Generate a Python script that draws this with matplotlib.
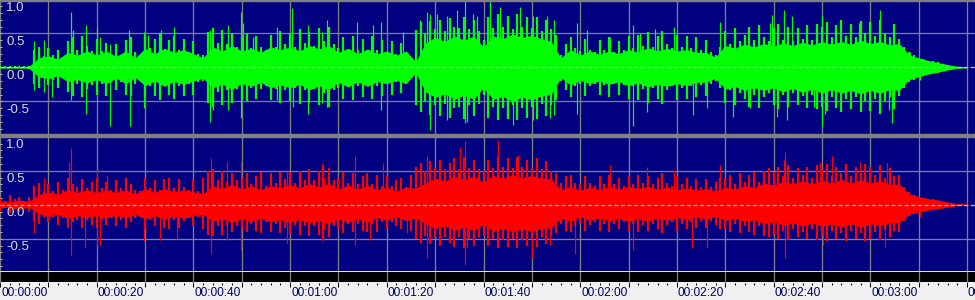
import numpy as np
import matplotlib
matplotlib.use("Agg")
import matplotlib.pyplot as plt
from matplotlib.patches import Rectangle
import matplotlib.transforms as mtransforms

# ---------------- data ----------------
# dense core of the waveform, every 2 seconds
core_seconds = list(range(0, 201, 2))
green_core_hi = [.012,.012,.012,.015,.14,.17,.12,.22,.18,.24,
                 .18,.24,.16,.24,.14,.28,.20,.28,.22,.26,
                 .20,.14,.30,.24,.32,.24,.28,.22,.30,.26,
                 .30,.24,.32,.27,.32,.22,.28,.20,.27,.20,
                 .24,.18,.24,.08,.36,.44,.38,.46,.40,.46,
                 .30,.46,.42,.49,.44,.47,.42,.38,.14,.26,
                 .18,.24,.19,.24,.20,.26,.22,.29,.24,.28,
                 .24,.26,.22,.22,.15,.32,.28,.34,.30,.35,
                 .31,.36,.32,.37,.33,.38,.34,.38,.34,.40,
                 .35,.38,.33,.35,.18,.14,.10,.07,.04,.015,
                 .01]
green_core_lo = [-.012,-.012,-.012,-.015,-.14,-.17,-.12,-.21,-.18,-.23,
                 -.18,-.24,-.16,-.24,-.15,-.27,-.20,-.28,-.21,-.25,
                 -.20,-.16,-.30,-.25,-.32,-.24,-.28,-.22,-.30,-.26,
                 -.30,-.25,-.33,-.27,-.33,-.22,-.29,-.21,-.28,-.21,
                 -.24,-.19,-.24,-.08,-.36,-.44,-.39,-.47,-.41,-.47,
                 -.30,-.47,-.43,-.50,-.44,-.48,-.42,-.40,-.15,-.26,
                 -.19,-.24,-.20,-.25,-.21,-.27,-.23,-.29,-.25,-.28,
                 -.24,-.27,-.22,-.22,-.16,-.32,-.28,-.34,-.30,-.34,
                 -.30,-.36,-.31,-.37,-.32,-.38,-.33,-.38,-.34,-.39,
                 -.34,-.38,-.33,-.34,-.18,-.14,-.10,-.07,-.04,-.015,
                 -.01]
red_core_hi = [.06,.04,.07,.05,.15,.19,.15,.22,.18,.22,
               .18,.22,.18,.22,.16,.24,.18,.24,.19,.22,
               .19,.16,.28,.24,.30,.23,.28,.22,.28,.25,
               .30,.25,.31,.26,.32,.23,.29,.23,.29,.22,
               .26,.20,.26,.24,.32,.39,.35,.42,.37,.42,
               .33,.43,.39,.44,.40,.43,.39,.38,.22,.27,
               .21,.26,.22,.27,.23,.27,.24,.27,.23,.26,
               .22,.25,.21,.24,.20,.26,.23,.28,.25,.32,
               .29,.34,.31,.35,.31,.36,.32,.37,.32,.37,
               .32,.35,.30,.30,.16,.12,.09,.07,.04,.015,
               .01]
red_core_lo = [-.05,-.03,-.06,-.04,-.13,-.17,-.14,-.20,-.16,-.19,
               -.16,-.19,-.16,-.19,-.14,-.21,-.16,-.21,-.17,-.20,
               -.16,-.14,-.24,-.21,-.26,-.21,-.25,-.20,-.25,-.22,
               -.26,-.22,-.27,-.23,-.28,-.21,-.26,-.21,-.26,-.19,
               -.23,-.18,-.23,-.20,-.28,-.35,-.31,-.38,-.33,-.38,
               -.29,-.39,-.35,-.40,-.36,-.39,-.35,-.34,-.20,-.24,
               -.18,-.23,-.19,-.24,-.20,-.24,-.21,-.24,-.20,-.23,
               -.19,-.22,-.18,-.21,-.17,-.23,-.20,-.25,-.22,-.28,
               -.25,-.30,-.27,-.31,-.27,-.32,-.28,-.33,-.28,-.33,
               -.28,-.31,-.27,-.26,-.14,-.11,-.08,-.06,-.035,-.012,
               -.01]

# per-second fringe peaks
seconds = list(range(0, 201))
green_hi = [.015,.015,.015,.015,.015,.015,.02,.26,.30,.16,
            .28,.18,.26,.15,.38,.44,.25,.46,.32,.24,
            .42,.24,.36,.20,.34,.18,.40,.44,.22,.16,
            .46,.28,.42,.50,.24,.40,.46,.26,.42,.22,
            .38,.20,.18,.52,.58,.36,.55,.34,.50,.30,
            .44,.50,.28,.46,.30,.26,.48,.30,.54,.34,
            .50,.30,.56,.36,.52,.32,.58,.38,.60,.34,
            .28,.44,.22,.46,.26,.42,.22,.46,.26,.40,
            .22,.38,.20,.36,.22,.10,.55,.66,.50,.68,
            .56,.70,.54,.72,.60,.58,.74,.56,.70,.54,
            .40,.74,.58,.78,.60,.76,.56,.78,.60,.74,
            .58,.74,.54,.70,.56,.48,.18,.34,.44,.28,
            .24,.42,.26,.22,.40,.26,.44,.22,.38,.26,
            .46,.28,.48,.32,.52,.30,.46,.54,.34,.28,
            .48,.30,.46,.28,.44,.26,.40,.22,.18,.30,
            .54,.34,.58,.38,.48,.60,.40,.62,.44,.38,
            .58,.64,.40,.60,.38,.58,.42,.62,.40,.64,
            .60,.66,.44,.62,.70,.46,.64,.44,.68,.50,
            .66,.46,.70,.50,.44,.64,.42,.30,.22,.18,
            .14,.12,.10,.09,.08,.05,.03,.02,.01,.01,
            .01]
green_lo = [-.015,-.015,-.015,-.015,-.015,-.015,-.02,-.24,-.30,-.16,
            -.26,-.18,-.30,-.15,-.36,-.42,-.24,-.44,-.32,-.26,
            -.40,-.25,-.42,-.22,-.34,-.22,-.40,-.42,-.24,-.18,
            -.44,-.28,-.42,-.48,-.26,-.40,-.46,-.28,-.42,-.24,
            -.40,-.22,-.20,-.52,-.58,-.36,-.56,-.34,-.52,-.32,
            -.46,-.50,-.30,-.46,-.32,-.28,-.48,-.32,-.52,-.34,
            -.50,-.30,-.54,-.34,-.52,-.32,-.56,-.38,-.58,-.34,
            -.30,-.46,-.24,-.48,-.28,-.44,-.24,-.46,-.28,-.42,
            -.24,-.40,-.22,-.38,-.24,-.10,-.56,-.66,-.50,-.70,
            -.56,-.72,-.54,-.74,-.60,-.58,-.76,-.56,-.72,-.54,
            -.40,-.74,-.58,-.78,-.60,-.76,-.56,-.78,-.60,-.74,
            -.58,-.76,-.54,-.72,-.56,-.48,-.20,-.34,-.44,-.28,
            -.24,-.42,-.28,-.24,-.40,-.26,-.44,-.24,-.40,-.26,
            -.46,-.28,-.48,-.32,-.52,-.30,-.46,-.54,-.34,-.28,
            -.48,-.30,-.46,-.28,-.44,-.26,-.42,-.24,-.20,-.30,
            -.52,-.34,-.56,-.38,-.46,-.58,-.40,-.60,-.44,-.38,
            -.56,-.62,-.40,-.58,-.38,-.56,-.42,-.60,-.40,-.62,
            -.58,-.64,-.44,-.60,-.66,-.46,-.62,-.44,-.66,-.50,
            -.64,-.46,-.68,-.50,-.44,-.62,-.42,-.30,-.22,-.18,
            -.14,-.12,-.10,-.09,-.08,-.05,-.03,-.02,-.01,-.01,
            -.01]
red_hi = [.12,.06,.14,.08,.12,.06,.12,.28,.32,.20,
          .30,.20,.34,.22,.40,.30,.26,.38,.24,.34,
          .40,.24,.34,.22,.36,.24,.40,.30,.22,.20,
          .40,.24,.36,.22,.38,.40,.24,.38,.26,.22,
          .36,.20,.40,.50,.52,.36,.50,.34,.46,.36,
          .40,.46,.30,.42,.48,.28,.46,.32,.48,.38,
          .48,.32,.50,.36,.52,.36,.50,.40,.54,.36,
          .40,.48,.32,.46,.30,.42,.46,.30,.44,.28,
          .42,.28,.36,.40,.26,.44,.56,.62,.50,.64,
          .54,.66,.52,.62,.68,.52,.70,.54,.66,.52,
          .50,.66,.54,.70,.56,.68,.54,.70,.56,.66,
          .54,.68,.52,.64,.50,.46,.32,.42,.44,.32,
          .30,.42,.32,.28,.42,.30,.44,.30,.40,.28,
          .42,.30,.44,.32,.42,.30,.40,.46,.32,.28,
          .42,.30,.40,.28,.38,.26,.38,.26,.34,.40,
          .40,.44,.30,.46,.34,.44,.48,.34,.50,.54,
          .48,.56,.42,.58,.40,.54,.44,.56,.40,.58,
          .52,.60,.42,.56,.46,.60,.42,.56,.46,.60,
          .56,.44,.58,.40,.54,.42,.44,.26,.18,.14,
          .12,.10,.09,.08,.06,.04,.03,.02,.01,.01,
          .01]
red_lo = [-.10,-.05,-.12,-.06,-.10,-.05,-.10,-.24,-.28,-.18,
          -.26,-.18,-.30,-.19,-.34,-.26,-.22,-.34,-.22,-.30,
          -.34,-.22,-.30,-.20,-.32,-.22,-.34,-.26,-.20,-.18,
          -.36,-.22,-.32,-.20,-.34,-.36,-.22,-.34,-.24,-.20,
          -.32,-.18,-.36,-.44,-.46,-.32,-.44,-.30,-.40,-.32,
          -.36,-.40,-.28,-.38,-.42,-.26,-.40,-.28,-.42,-.34,
          -.42,-.30,-.44,-.32,-.46,-.32,-.44,-.36,-.48,-.32,
          -.36,-.42,-.28,-.40,-.28,-.38,-.40,-.28,-.40,-.26,
          -.36,-.26,-.32,-.36,-.24,-.38,-.50,-.56,-.46,-.58,
          -.48,-.60,-.48,-.56,-.62,-.48,-.64,-.50,-.60,-.48,
          -.46,-.60,-.50,-.64,-.52,-.62,-.50,-.64,-.52,-.60,
          -.50,-.62,-.48,-.58,-.46,-.42,-.28,-.38,-.40,-.30,
          -.28,-.38,-.30,-.26,-.38,-.28,-.40,-.28,-.36,-.26,
          -.38,-.28,-.40,-.30,-.38,-.28,-.36,-.42,-.30,-.26,
          -.38,-.28,-.36,-.26,-.34,-.24,-.34,-.24,-.30,-.36,
          -.36,-.40,-.28,-.42,-.32,-.40,-.44,-.32,-.46,-.48,
          -.44,-.50,-.38,-.52,-.36,-.48,-.40,-.50,-.36,-.52,
          -.46,-.54,-.38,-.50,-.42,-.54,-.38,-.50,-.42,-.54,
          -.50,-.40,-.52,-.36,-.48,-.38,-.40,-.24,-.16,-.13,
          -.11,-.09,-.08,-.07,-.05,-.04,-.03,-.02,-.01,-.01,
          -.01]

# isolated tall spikes
green_spike_t = [7.1,7.1,9.0,9.0,10.8,14.6,14.6,15.0,17.8,17.8,20.0,20.7,22.8,22.8,
                 26.6,26.9,29.7,29.7,30.7,33.4,35.9,43.4,43.4,44.1,47.2,47.2,49.8,49.8,
                 50.3,52.4,57.2,57.2,60.3,60.7,63.8,63.8,66.6,66.6,67.6,67.6,
                 73.8,77.2,78.9,78.9,83.4,86.9,88.3,89.0,89.0,90.3,92.4,92.4,94.5,
                 96.2,96.2,96.5,97.9,98.6,101.4,103.4,104.8,104.8,106.2,107.6,110.3,110.3,
                 113.1,113.8,114.5,114.5,119.3,119.3,121.4,126.2,131.0,131.0,132.4,
                 133.8,135.5,139.3,143.4,146.2,149.0,151.7,155.2,159.3,159.6,160.7,
                 162.1,162.7,163.8,168.3,170.0,170.0,170.7,177.6,182.1,183.8,184.5,
                 188.3,190.3]
green_spike_v = [0.38,-0.33,0.40,-0.36,-0.43,0.82,-0.48,0.55,0.62,-0.68,0.60,0.45,0.35,-0.87,
                 0.55,-0.87,0.52,-0.60,0.48,0.55,0.60,0.55,-0.80,-0.63,0.62,-0.63,0.82,-0.75,
                 0.65,0.45,0.60,-0.48,0.87,-0.58,0.62,-0.68,0.52,-0.53,0.70,-0.58,
                 0.67,0.62,0.67,-0.63,0.52,0.70,0.82,0.79,-0.92,0.79,0.75,-0.78,0.84,
                 0.99,-0.82,-0.80,0.79,0.75,0.99,0.89,0.70,-0.73,-0.85,0.89,0.75,-0.78,
                 0.75,-0.75,0.70,-0.70,0.65,-0.68,0.55,0.45,0.62,-0.87,0.50,
                 -0.65,0.57,0.60,-0.70,-0.60,0.67,-0.73,-0.60,0.65,0.77,-0.73,
                 0.84,-0.77,0.75,-0.58,0.77,-0.87,-0.68,0.65,0.84,-0.63,-0.82,
                 0.23,-0.19]

red_spike_t = [7.1,9.0,14.3,14.6,14.6,17.6,20.0,20.0,20.7,22.1,29.7,33.1,36.6,
               43.6,43.6,46.9,46.9,49.8,49.8,59.3,59.3,66.6,66.6,
               66.9,66.9,73.4,73.4,76.5,79.3,84.1,88.3,88.3,95.2,96.2,96.2,96.5,
               103.1,107.2,110.0,113.8,119.0,126.2,131.0,
               133.8,139.3,143.1,146.2,149.0,162.1,162.4,162.4,169.6,170.3,172.1,
               177.9,183.1,183.4,190.3]
red_spike_v = [-0.42,0.39,0.63,0.83,-0.74,-0.64,0.51,-0.59,-0.59,0.44,-0.54,-0.52,-0.50,
               0.68,-0.72,0.63,-0.52,0.63,-0.67,0.49,-0.57,0.61,-0.52,
               0.58,-0.52,0.71,-0.59,-0.52,0.61,-0.42,0.71,-0.79,0.85,0.93,-0.89,-0.64,
               0.95,0.73,-0.79,-0.59,-0.72,0.58,-0.67,
               0.56,0.51,-0.64,-0.64,0.58,0.66,0.78,-0.79,0.63,-0.59,0.71,
               0.63,-0.62,0.61,-0.18]

grid_seconds = list(range(0, 210, 10))
minor_tick_seconds = list(range(0, 204, 2))
y_tick_values = [1.0, 0.5, 0.0, -0.5]
y_tick_labels = ["1.0", "0.5", "0.0", "-0.5"]
time_label_seconds = [0, 20, 40, 60, 80, 100, 120, 140, 160, 180, 200]
time_labels = ["00:00:00", "00:00:20", "00:00:40", "00:01:00", "00:01:20", "00:01:40",
               "00:02:00", "00:02:20", "00:02:40", "00:03:00", "00:03:20"]

# ---------------- style ----------------
W, H, DPI = 975, 300, 100
NAVY = "#000080"
GRID = "#808080"
PX = 72.0 / DPI          # one pixel in points
XMAX = 975 / 4.835       # seconds visible across the width

plt.rcParams["font.family"] = ["Liberation Sans", "DejaVu Sans"]

fig = plt.figure(figsize=(W / DPI, H / DPI), dpi=DPI, facecolor="#f0f0f0")


def px_axes(top, bottom):
    return fig.add_axes([0, 1 - bottom / H, 1, (bottom - top) / H])


def channel(ax, core_hi, core_lo, hi, lo, spike_t, spike_v, color, ylim):
    ax.set_facecolor(NAVY)
    ax.set_xlim(0, XMAX)
    ax.set_ylim(*ylim)
    for s in ax.spines.values():
        s.set_visible(False)
    ax.set_xticks([])
    ax.set_yticks([])
    for g in grid_seconds:
        ax.axvline(g, color=GRID, lw=1.3 * PX, zorder=1)
    for v in (0.5, -0.5):
        ax.axhline(v, color=GRID, lw=1.3 * PX, zorder=1)
    ax.fill_between(core_seconds, core_lo, core_hi, color=color, lw=0, zorder=2)
    ax.vlines(seconds, lo, hi, color=color, lw=2.2 * PX, zorder=3)
    ax.vlines(spike_t, 0, spike_v, color=color, lw=1.2 * PX, zorder=3)
    ax.axhline(0, color="#c8c8c8", lw=1.2 * PX, dashes=(3.5, 2.0), zorder=4)
    # small left ticks every 0.1
    for v in np.arange(-0.9, 1.0, 0.1):
        ax.plot([0, 2.2 / 4.835], [v, v], color="#c0c0c0", lw=1 * PX, zorder=5,
                solid_capstyle="butt")
    off = mtransforms.offset_copy(ax.transData, fig=fig, x=6 * PX, y=-2.8 * PX,
                                  units="points")
    for v, lab in zip(y_tick_values, y_tick_labels):
        ax.text(0, v, lab, transform=off, ha="left", va="top", color="#d8d8d8",
                fontsize=9.5, zorder=6)


ax_top = px_axes(1, 134)
channel(ax_top, green_core_hi, green_core_lo, green_hi, green_lo,
        green_spike_t, green_spike_v, "#00ff00",
        ((67.3 - 134) / 68, (67.3 - 1) / 68))
ax_bot = px_axes(137, 271)
channel(ax_bot, red_core_hi, red_core_lo, red_hi, red_lo,
        red_spike_t, red_spike_v, "#ff0000",
        ((204.7 - 271) / 68, (204.7 - 137) / 68))

# frame pieces: top border and separator
fig.patches.append(Rectangle((0, 1 - 1 / H), 1, 1 / H, transform=fig.transFigure,
                             color=GRID, zorder=0))
fig.patches.append(Rectangle((0, 1 - 137 / H), 1, 3 / H, transform=fig.transFigure,
                             color=GRID, zorder=0))

# timeline
ax_t = px_axes(271, 300)
ax_t.set_xlim(0, XMAX)
ax_t.set_ylim(300, 271)
ax_t.set_facecolor("#f0f0f0")
ax_t.axis("off")
ax_t.add_patch(Rectangle((0, 271), XMAX, 1.2, color="#e8e8e8", lw=0))
ax_t.add_patch(Rectangle((0, 272.2), XMAX, 10, color="#000000", lw=0))
for g in grid_seconds:
    ax_t.plot([g, g], [272.2, 282.2], color=GRID, lw=1.3 * PX)
for s in minor_tick_seconds:
    ax_t.plot([s, s], [282.6, 284.8], color="#000000", lw=1 * PX, solid_capstyle="butt")
for g in grid_seconds:
    ax_t.plot([g, g], [282.6, 287], color="#000000", lw=1 * PX, solid_capstyle="butt")
for s, lab in zip(time_label_seconds, time_labels):
    ax_t.text(s + 1 / 4.835, 286.6, lab, ha="left", va="top", color="#000060",
              fontsize=8.6)

fig.savefig("out.png", dpi=DPI, facecolor=fig.get_facecolor())
